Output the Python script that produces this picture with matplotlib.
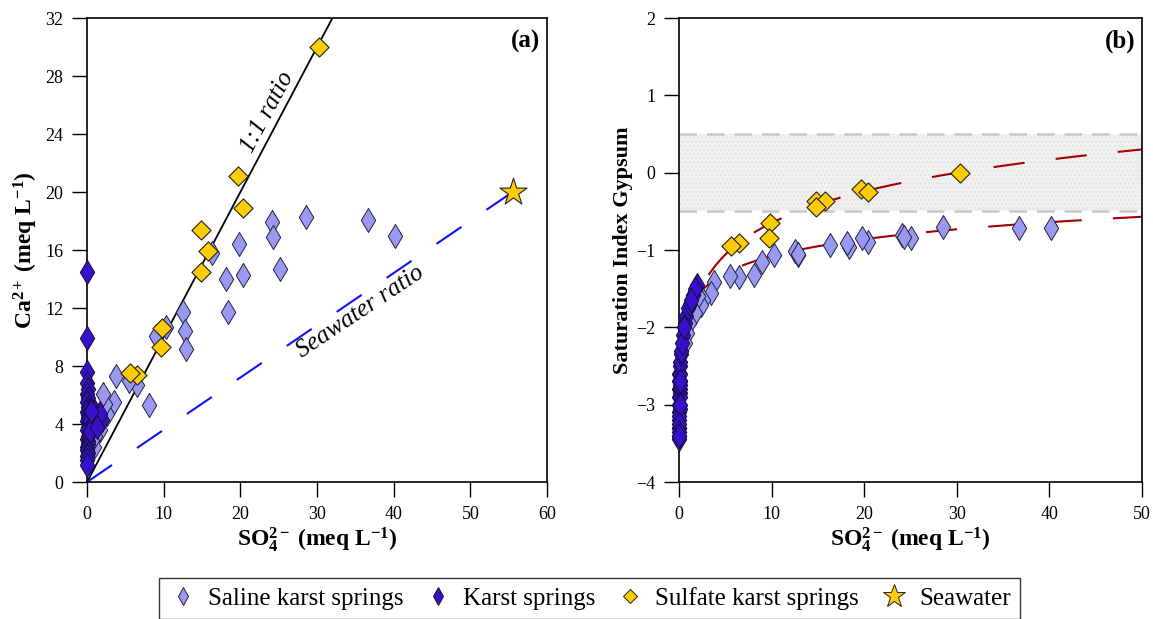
import numpy as np
import matplotlib
matplotlib.use('Agg')
import matplotlib.pyplot as plt
from matplotlib.lines import Line2D

plt.rcParams['font.family'] = ['Liberation Serif', 'DejaVu Serif']
plt.rcParams['mathtext.fontset'] = 'custom'
plt.rcParams['mathtext.rm'] = 'Liberation Serif'
plt.rcParams['mathtext.it'] = 'Liberation Serif:italic'
plt.rcParams['mathtext.bf'] = 'Liberation Serif:bold'

# Saline karst springs: SO4 (meq/L), Ca (meq/L), SI gypsum
saline_so4 = [40.2, 36.7, 28.5, 25.1, 24.1, 24.3, 20.4, 19.8, 18.4, 18.1, 16.3,
              12.5, 12.8, 12.9, 10.3, 9.0, 8.1, 6.5, 5.5, 3.8, 3.5, 2.6, 2.4,
              2.1, 1.7, 1.1, 0.9, 0.6]
saline_ca = [17.0, 18.1, 18.3, 14.7, 17.9, 16.9, 14.3, 16.4, 11.7, 14.0, 15.8,
             11.7, 10.4, 9.2, 10.7, 10.1, 5.3, 6.7, 7.0, 7.3, 5.5, 4.7, 5.4,
             6.1, 3.6, 3.2, 2.4, 2.9]
saline_si = [-0.71, -0.72, -0.70, -0.85, -0.80, -0.83, -0.89, -0.85, -0.96, -0.91, -0.94,
             -1.01, -1.06, -1.05, -1.06, -1.15, -1.32, -1.35, -1.34, -1.41, -1.56, -1.65, -1.71,
             -1.60, -1.82, -1.95, -2.07, -2.2]

# Karst springs
karst_so4 = [0.05, 0.05, 0.03, 0.05, 0.10, 0.04, 0.08, 0.02, 0.12, 0.06, 0.03, 0.15,
             0.07, 0.02, 0.20, 0.09, 0.04, 0.25, 0.11, 0.03, 0.06, 0.13, 0.02, 0.05,
             0.08, 0.04, 0.03, 0.02, 0.40, 0.60, 0.80, 1.00, 1.20, 1.50, 1.90, 1.70,
             0.35, 0.50, 1.30]
karst_ca = [14.5, 9.9, 7.6, 6.8, 6.4, 6.1, 5.8, 5.5, 5.2, 5.0, 4.8, 4.6,
            4.4, 4.2, 4.0, 3.8, 3.6, 3.4, 3.2, 3.0, 2.8, 2.6, 2.4, 2.2,
            2.0, 1.8, 1.5, 1.2, 4.3, 3.9, 4.1, 4.8, 4.5, 4.2, 4.3, 4.7,
            3.5, 4.9, 3.8]
karst_si = [-2.6, -2.7, -2.9, -2.8, -2.6, -3.0, -2.7, -3.3, -2.5, -2.85, -3.2, -2.45,
            -2.9, -3.4, -2.35, -2.8, -3.1, -2.3, -2.75, -3.3, -3.05, -2.7, -3.45, -3.15,
            -3.0, -3.25, -3.35, -3.4, -2.1, -1.95, -1.85, -1.75, -1.7, -1.58, -1.45, -1.5,
            -2.2, -2.0, -1.65]

# Sulfate karst springs
sulf_so4 = [30.3, 19.7, 20.4, 14.8, 15.8, 14.8, 9.8, 9.7, 6.5, 5.6]
sulf_ca = [30.0, 21.1, 18.9, 17.4, 15.9, 14.5, 10.6, 9.3, 7.4, 7.5]
sulf_si = [0.0, -0.21, -0.25, -0.36, -0.37, -0.44, -0.65, -0.85, -0.91, -0.95]

# Seawater
sea_so4 = 55.5
sea_ca = 20.0

# trend lines in (b): SI = a + b*log10(SO4)
upper_fit = (-2.01, 1.36)
lower_fit = (-1.81, 0.73)

c_saline = '#9999f0'
c_karst = '#3a0fcc'
c_sulf = '#ffcc00'

fig = plt.figure(figsize=(11.53, 6.19), dpi=100)
ax1 = fig.add_axes([0.0755, 0.2213, 0.399, 0.7496])
ax2 = fig.add_axes([0.5889, 0.2213, 0.4016, 0.7496])

# ---- panel (a)
ax1.plot([0, 32], [0, 32], color='black', lw=1.3, zorder=2)
xs = np.array([0, 57.5])
ax1.plot(xs, xs * sea_ca / sea_so4, color='#1010ff', lw=1.5,
         ls=(0, (14.5, 14.5)), zorder=2)
ax1.scatter(saline_so4, saline_ca, marker='d', s=150, c=c_saline,
            edgecolors='#222244', linewidths=0.7, zorder=3, clip_on=False)
ax1.scatter(karst_so4, karst_ca, marker='d', s=150, c=c_karst,
            edgecolors='#111133', linewidths=0.7, zorder=4, clip_on=False)
ax1.scatter(sulf_so4, sulf_ca, marker='D', s=95, c=c_sulf,
            edgecolors='#222222', linewidths=0.8, zorder=5, clip_on=False)
ax1.scatter([sea_so4], [sea_ca], marker='*', s=420, c=c_sulf,
            edgecolors='#222222', linewidths=0.8, zorder=6, clip_on=False)
ax1.text(23.6, 25.5, '1:1 ratio', rotation=61.8, style='italic', fontsize=18,
         ha='center', va='center')
ax1.text(35.6, 11.7, 'Seawater ratio', rotation=33.7, style='italic', fontsize=18,
         ha='center', va='center')
ax1.text(0.985, 0.975, '(a)', transform=ax1.transAxes, ha='right', va='top',
         fontsize=18, fontweight='bold')
ax1.set_xlim(0, 60)
ax1.set_ylim(0, 32)
ax1.set_xticks(np.arange(0, 61, 10))
ax1.set_yticks(np.arange(0, 33, 4))
ax1.set_xlabel(r'$\mathbf{SO_4^{2-}\ (meq\ L^{-1})}$', fontsize=17, labelpad=2)
ax1.set_ylabel(r'$\mathbf{Ca^{2+}\ (meq\ L^{-1})}$', fontsize=17, labelpad=4)

# ---- panel (b)
ax2.axhspan(-0.5, 0.5, facecolor='#f1f1f1', edgecolor='#e4e4e4', hatch='....',
            lw=0, zorder=0)
for yb in (-0.5, 0.5):
    ax2.axhline(yb, color='#c8c8c8', lw=1.8, ls=(0, (7, 4)), zorder=1)

xu = np.linspace(3.2, 50, 200)
ax2.plot(xu, upper_fit[0] + upper_fit[1] * np.log10(xu), color='#a00000',
         lw=1.5, ls=(0, (15, 15)), zorder=2)
xl = np.logspace(-2, np.log10(50), 300)
ax2.plot(xl, lower_fit[0] + lower_fit[1] * np.log10(xl), color='#a00000',
         lw=1.5, ls=(0, (15, 15)), zorder=2)

ax2.scatter(saline_so4, saline_si, marker='d', s=150, c=c_saline,
            edgecolors='#222244', linewidths=0.7, zorder=3, clip_on=False)
ax2.scatter(karst_so4, karst_si, marker='d', s=150, c=c_karst,
            edgecolors='#111133', linewidths=0.7, zorder=4, clip_on=False)
ax2.scatter(sulf_so4, sulf_si, marker='D', s=95, c=c_sulf,
            edgecolors='#222222', linewidths=0.8, zorder=5, clip_on=False)
ax2.text(0.985, 0.975, '(b)', transform=ax2.transAxes, ha='right', va='top',
         fontsize=18, fontweight='bold')
ax2.set_xlim(0, 50)
ax2.set_ylim(-4, 2)
ax2.set_xticks(np.arange(0, 51, 10))
ax2.set_yticks(np.arange(-4, 3, 1))
ax2.set_xlabel(r'$\mathbf{SO_4^{2-}\ (meq\ L^{-1})}$', fontsize=17, labelpad=2)
ax2.set_ylabel('Saturation Index Gypsum', fontsize=16, fontweight='bold', labelpad=2)

for ax in (ax1, ax2):
    ax.tick_params(direction='out', length=11, width=1, labelsize=13, pad=6)
    for sp in ax.spines.values():
        sp.set_linewidth(1.2)

handles = [
    Line2D([], [], ls='', marker='d', ms=9, mfc=c_saline, mec='#222244', mew=0.7),
    Line2D([], [], ls='', marker='d', ms=9, mfc=c_karst, mec='#111133', mew=0.7),
    Line2D([], [], ls='', marker='D', ms=7, mfc=c_sulf, mec='#222222', mew=0.7),
    Line2D([], [], ls='', marker='*', ms=17, mfc=c_sulf, mec='#222222', mew=0.7),
]
labels = ['Saline karst springs', 'Karst springs', 'Sulfate karst springs', 'Seawater']
leg = fig.legend(handles, labels, loc='lower center', bbox_to_anchor=(0.511, -0.02),
                 ncol=4, frameon=True, fancybox=False, fontsize=18,
                 handletextpad=0.4, columnspacing=0.8, borderpad=0.35,
                 handlelength=1.2)
leg.get_frame().set_edgecolor('black')
leg.get_frame().set_linewidth(1.0)

fig.savefig('out.png', dpi=100)
